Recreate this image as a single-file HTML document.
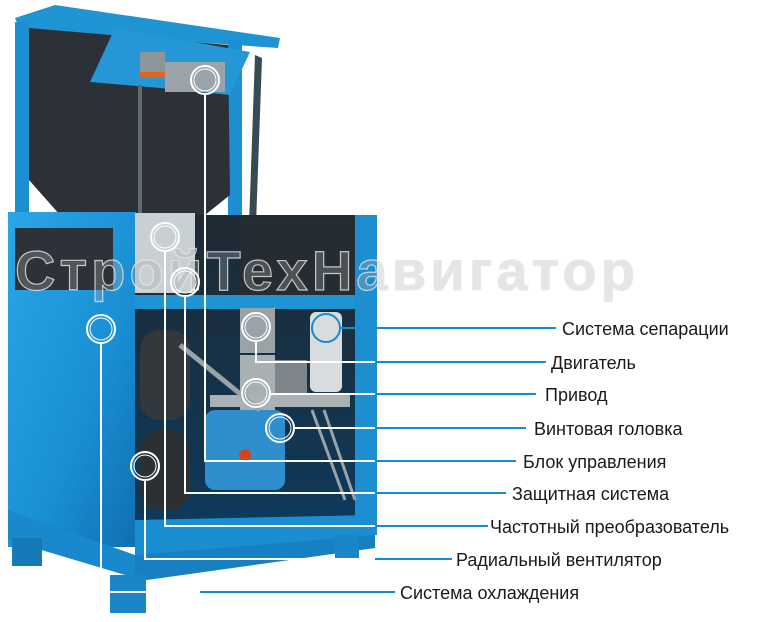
<!DOCTYPE html>
<html><head><meta charset="utf-8"><style>
html,body{margin:0;padding:0;background:#fff;}
svg{display:block}
</style></head><body>
<svg width="763" height="622" viewBox="0 0 763 622" xmlns="http://www.w3.org/2000/svg">
<defs>
<linearGradient id="side" x1="0" y1="0" x2="1" y2="1">
<stop offset="0" stop-color="#2aa6e6"/><stop offset="0.6" stop-color="#1a8fd4"/><stop offset="1" stop-color="#0f6fb0"/>
</linearGradient>
<linearGradient id="inner" x1="0" y1="0" x2="0" y2="1">
<stop offset="0" stop-color="#1f2a33"/><stop offset="1" stop-color="#0d3a5c"/>
</linearGradient>
</defs>
<!-- upper section -->
<polygon points="15,18 55,5 280,38 278,48 20,30" fill="#1f94d2"/>
<rect x="15" y="22" width="14" height="195" fill="#1d8fd0"/>
<rect x="228" y="40" width="14" height="180" fill="#1d8fd0"/>
<polygon points="29,28 228,45 230,195 205,215 60,215 29,180" fill="#2b3136"/>
<polygon points="115,28 250,52 230,95 160,88 90,82" fill="#2596d6"/>
<rect x="140" y="52" width="25" height="25" fill="#8d959b"/>
<rect x="140" y="72" width="25" height="6" fill="#e0651e"/>
<rect x="165" y="62" width="60" height="30" fill="#9aa4aa"/>
<rect x="138" y="85" width="4" height="135" fill="#606a70"/>
<polygon points="255,55 262,58 256,225 249,225" fill="#3a4a55"/>
<!-- lower cabinet -->
<rect x="8" y="212" width="128" height="335" fill="url(#side)"/>
<rect x="15" y="228" width="98" height="62" fill="#2d3238"/>
<rect x="135" y="215" width="240" height="310" fill="url(#inner)"/>
<rect x="135" y="213" width="60" height="80" fill="#c9d0d4"/>
<rect x="240" y="218" width="115" height="80" fill="#252c32"/>
<rect x="135" y="295" width="230" height="14" fill="#1f94d2"/>
<rect x="355" y="215" width="22" height="320" fill="#1d8fd0"/>
<!-- tanks -->
<rect x="140" y="330" width="50" height="90" rx="20" fill="#33383d"/>
<rect x="140" y="430" width="50" height="80" rx="20" fill="#2b3035"/>
<!-- compressor parts -->
<rect x="240" y="308" width="35" height="45" fill="#9aa3a8"/>
<rect x="240" y="355" width="35" height="55" fill="#a8b0b4"/>
<rect x="310" y="312" width="32" height="80" rx="6" fill="#d8dcde"/>
<rect x="275" y="360" width="32" height="35" fill="#7d868b"/>
<rect x="210" y="395" width="140" height="12" fill="#aab2b6"/>
<rect x="205" y="410" width="80" height="80" rx="10" fill="#2f8fcc"/>
<circle cx="245" cy="455" r="6" fill="#d7421c"/>
<line x1="180" y1="345" x2="260" y2="410" stroke="#9aa3a8" stroke-width="5"/>
<line x1="312" y1="410" x2="345" y2="500" stroke="#9aa3a8" stroke-width="3"/>
<line x1="324" y1="410" x2="355" y2="500" stroke="#9aa3a8" stroke-width="3"/>
<!-- base -->
<polygon points="135,520 375,515 375,540 135,560" fill="#1a8ed0"/>
<polygon points="8,510 135,555 135,578 8,540" fill="#1a88cc"/>
<polygon points="135,555 375,535 375,548 147,580 135,578" fill="#1780c2"/>
<rect x="12" y="538" width="30" height="28" fill="#1679b8"/>
<rect x="110" y="575" width="36" height="38" fill="#1a86c8"/>
<rect x="335" y="535" width="24" height="24" fill="#1a86c8"/>
<!-- watermark -->
<text x="15" y="290" font-family="Liberation Sans, sans-serif" font-size="56" font-weight="bold" fill="rgba(170,170,170,0.3)" stroke="rgba(230,230,230,0.8)" stroke-width="1.2" textLength="620">СтройТехНавигатор</text>
<!-- connectors white -->
<g fill="none" stroke="#fff" stroke-width="2">
<polyline points="256,341 256,362 375,362"/>
<line x1="270" y1="394" x2="375" y2="394"/>
<line x1="294" y1="428" x2="375" y2="428"/>
<polyline points="205,94 205,461 375,461"/>
<polyline points="185,296 185,493 375,493"/>
<polyline points="165,251 165,526 375,526"/>
<polyline points="145,480 145,559 375,559"/>
<polyline points="101,343 101,592 200,592"/>
</g>
<g fill="none" stroke="#1a8ad0" stroke-width="2">
<line x1="340" y1="328" x2="556" y2="328"/>
<line x1="375" y1="362" x2="546" y2="362"/>
<line x1="375" y1="394" x2="536" y2="394"/>
<line x1="375" y1="428" x2="526" y2="428"/>
<line x1="375" y1="461" x2="516" y2="461"/>
<line x1="375" y1="493" x2="506" y2="493"/>
<line x1="375" y1="526" x2="488" y2="526"/>
<line x1="375" y1="559" x2="452" y2="559"/>
<line x1="200" y1="592" x2="395" y2="592"/>
</g>
<g fill="none" stroke="#fff" stroke-width="2">
<circle cx="205" cy="80" r="14"/><circle cx="205" cy="80" r="11" stroke-width="1"/>
<circle cx="165" cy="237" r="14"/><circle cx="165" cy="237" r="11" stroke-width="1"/>
<circle cx="185" cy="282" r="14"/><circle cx="185" cy="282" r="11" stroke-width="1"/>
<circle cx="101" cy="329" r="14"/><circle cx="101" cy="329" r="11" stroke-width="1"/>
<circle cx="256" cy="327" r="14"/><circle cx="256" cy="327" r="11" stroke-width="1"/>
<circle cx="256" cy="393" r="14"/><circle cx="256" cy="393" r="11" stroke-width="1"/>
<circle cx="280" cy="428" r="14"/><circle cx="280" cy="428" r="11" stroke-width="1"/>
<circle cx="145" cy="466" r="14"/><circle cx="145" cy="466" r="11" stroke-width="1"/>
</g>
<circle cx="326" cy="328" r="14" fill="none" stroke="#1a8ad0" stroke-width="2"/>
<!-- labels -->
<g font-family="Liberation Sans, sans-serif" font-size="18" fill="#1a1a1a">
<text x="562" y="335">Система сепарации</text>
<text x="551" y="369">Двигатель</text>
<text x="545" y="401">Привод</text>
<text x="534" y="435">Винтовая головка</text>
<text x="523" y="468">Блок управления</text>
<text x="512" y="500">Защитная система</text>
<text x="490" y="533">Частотный преобразователь</text>
<text x="456" y="566">Радиальный вентилятор</text>
<text x="400" y="599">Система охлаждения</text>
</g>
</svg>
</body></html>
